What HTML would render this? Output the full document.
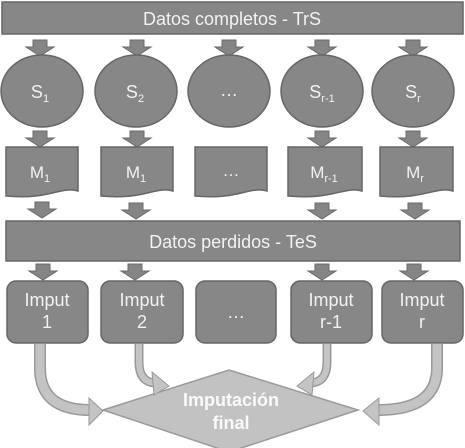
<!DOCTYPE html>
<html><head><meta charset="utf-8"><style>
html,body{margin:0;padding:0;background:#fff;width:465px;height:448px;overflow:hidden}
svg text{font-family:"Liberation Sans",sans-serif;fill:#f2f2f2;text-anchor:middle}
</style></head><body>
<svg width="465" height="448" viewBox="0 0 465 448" xmlns="http://www.w3.org/2000/svg">
<defs>
<g id="da"><polygon points="-7,0 7,0 7,7 14,7 0,16 -14,7 -7,7" fill="#858585" stroke="#6a6a6a" stroke-width="1"/></g>
</defs>
<rect x="2" y="2" width="461" height="32" fill="#878787" stroke="#666" stroke-width="1.5"/>
<text x="232" y="25" font-size="18">Datos completos - TrS</text>

<use href="#da" x="40" y="40"/><use href="#da" x="137" y="40"/><use href="#da" x="229" y="40"/><use href="#da" x="322" y="40"/><use href="#da" x="413" y="40"/>

<g fill="#878787" stroke="#666" stroke-width="1.5">
<ellipse cx="42" cy="91" rx="41" ry="36"/>
<ellipse cx="136" cy="91" rx="41" ry="36"/>
<ellipse cx="229" cy="91" rx="41" ry="36"/>
<ellipse cx="322" cy="91" rx="41" ry="36"/>
<ellipse cx="413" cy="91" rx="41" ry="36"/>
</g>
<text x="40" y="98" font-size="18">S<tspan font-size="11" dy="4">1</tspan></text>
<text x="135" y="98" font-size="18">S<tspan font-size="11" dy="4">2</tspan></text>
<text x="229" y="96" font-size="18">…</text>
<text x="322" y="98" font-size="18">S<tspan font-size="11" dy="4">r-1</tspan></text>
<text x="413" y="98" font-size="18">S<tspan font-size="11" dy="4">r</tspan></text>

<use href="#da" x="40" y="131"/><use href="#da" x="137" y="131"/><use href="#da" x="322" y="131"/><use href="#da" x="413" y="131"/>

<g fill="#878787" stroke="#666" stroke-width="1.5">
<path d="M6,147 H78 V191 C60,186 50,200 6,196 Z"/>
<path d="M101,147 H173 V191 C155,186 145,200 101,196 Z"/>
<path d="M195,147 H267 V191 C249,186 239,200 195,196 Z"/>
<path d="M288,147 H362 V191 C344,186 334,200 288,196 Z"/>
<path d="M380,147 H453 V191 C435,186 425,200 380,196 Z"/>
</g>
<text x="40" y="178" font-size="17">M<tspan font-size="11" dy="4">1</tspan></text>
<text x="136" y="178" font-size="17">M<tspan font-size="11" dy="4">1</tspan></text>
<text x="231" y="176" font-size="17">…</text>
<text x="324" y="178" font-size="17">M<tspan font-size="11" dy="4">r-1</tspan></text>
<text x="415" y="178" font-size="17">M<tspan font-size="11" dy="4">r</tspan></text>

<use href="#da" x="42" y="202"/><use href="#da" x="136" y="203"/><use href="#da" x="322" y="203"/><use href="#da" x="415" y="203"/>

<rect x="6" y="221" width="454" height="40" fill="#878787" stroke="#666" stroke-width="1.5"/>
<text x="233" y="248" font-size="18">Datos perdidos - TeS</text>

<use href="#da" x="43" y="264"/><use href="#da" x="135" y="264"/><use href="#da" x="322" y="264"/><use href="#da" x="414" y="264"/>

<g fill="#878787" stroke="#666" stroke-width="1.5">
<rect x="7" y="281" width="81" height="62" rx="9"/>
<rect x="101" y="281" width="82" height="62" rx="9"/>
<rect x="196" y="281" width="80" height="62" rx="9"/>
<rect x="291" y="281" width="81" height="62" rx="9"/>
<rect x="382" y="281" width="81" height="62" rx="9"/>
</g>
<g font-size="18">
<text x="47" y="306">Imput</text><text x="47" y="328">1</text>
<text x="142" y="306">Imput</text><text x="142" y="328">2</text>
<text x="236" y="318">…</text>
<text x="331" y="306">Imput</text><text x="331" y="328">r-1</text>
<text x="422" y="306">Imput</text><text x="422" y="328">r</text>
</g>

<polygon points="103,410 229,370 358,410 229,452" fill="#c2c2c2" stroke="#9a9a9a" stroke-width="1.5"/>
<text x="231" y="406" font-size="18" font-weight="bold" style="fill:#fafafa">Imputación</text>
<text x="231" y="429" font-size="18" font-weight="bold" style="fill:#fafafa">final</text>

<g fill="none" stroke-linecap="butt">
<path d="M40,344 V368 Q40,410 90,410" stroke="#999" stroke-width="12"/>
<path d="M40,344 V368 Q40,410 90,410" stroke="#c4c4c4" stroke-width="9"/>
<path d="M139,344 V362 Q139,382 155,383" stroke="#999" stroke-width="9"/>
<path d="M139,344 V362 Q139,382 155,383" stroke="#c4c4c4" stroke-width="6"/>
<path d="M327,344 V362 Q327,382 311,383" stroke="#999" stroke-width="9"/>
<path d="M327,344 V362 Q327,382 311,383" stroke="#c4c4c4" stroke-width="6"/>
<path d="M437,344 V368 Q437,410 378,410" stroke="#999" stroke-width="12"/>
<path d="M437,344 V368 Q437,410 378,410" stroke="#c4c4c4" stroke-width="9"/>
</g>
<g fill="#c4c4c4" stroke="#999" stroke-width="1">
<polygon points="89,398 103,411 89,425"/>
<polygon points="152,372 169,386 154,395"/>
<polygon points="314,372 297,386 312,395"/>
<polygon points="379,398 363,411 379,425"/>
</g>
</svg>
</body></html>
